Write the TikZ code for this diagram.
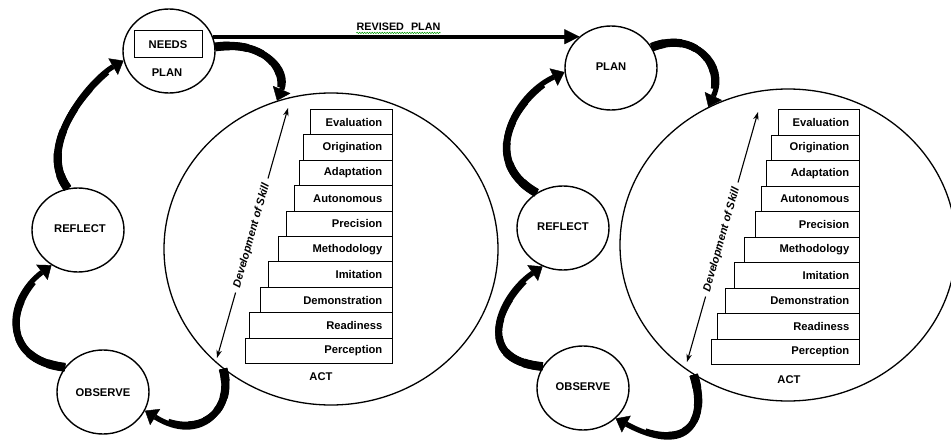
\documentclass[tikz,border=0pt]{standalone}
\usepackage{fontspec}
\setmainfont{Liberation Sans}
\usetikzlibrary{arrows.meta,shapes.geometric,decorations.pathmorphing,calc}
% tapered curved block arrow: node, angle, c1x, c1y, c2x, c2y, node, angle
\newcommand\taperarrow[8]{%
  \path (#1.#2) coordinate (tpA) (#7.#8) coordinate (tpB);
  \draw[bigarrow] (tpA) .. controls (#3,#4) and (#5,#6) .. (tpB);
  \foreach \tt/\ww in {0.85/5.8,0.7/6.4,0.55/7.0,0.4/7.6,0.25/8.2,0.1/8.8}{%
    \pgfsetlinewidth{\ww pt}%
    \pgfsetbuttcap
    \pgfpathcurvebetweentime{0}{\tt}{\pgfpointanchor{tpA}{center}}{\pgfpointxy{#3}{#4}}{\pgfpointxy{#5}{#6}}{\pgfpointanchor{tpB}{center}}%
    \pgfusepath{stroke}%
  }%
}
\begin{document}
\begin{tikzpicture}[x=1pt,y=1pt,
  lbl/.style={font=\fontsize{11.2}{13}\selectfont\bfseries, inner sep=0pt},
  smallc/.style={ellipse, draw, line width=1.4pt, minimum width=92pt, minimum height=84pt, inner sep=0pt},
  bigc/.style={ellipse, draw, line width=1.3pt, inner sep=0pt},
  stepbox/.style={draw, line width=1pt, rectangle, inner sep=0pt, anchor=north east},
  bigarrow/.style={line width=5.2pt, -{Triangle[length=12pt,width=19pt,line width=0.4pt]}},
  devarrow/.style={line width=1.1pt, -{Stealth[length=8pt,width=5.5pt]}},
  revarrow/.style={line width=3.8pt, -{Triangle[length=15pt,width=15pt,line width=0.4pt]}},
  squig/.style={green!60!black, line width=0.5pt, decorate, decoration={snake, amplitude=0.7pt, segment length=2.5pt}}
]
\useasboundingbox (0,0) rectangle (951,-444);

% big ACT ellipses
\node[bigc, minimum width=334pt, minimum height=312pt] (actL) at (331,-249) {};
\node[bigc, minimum width=336pt, minimum height=312pt] (actR) at (788,-245) {};

% small circles
\node[smallc] (planL) at (169,-51) {};
\node[smallc] (reflectL) at (78,-230) {};
\node[smallc] (observeL) at (103,-392) {};
\node[smallc] (planR) at (611,-68) {};
\node[smallc] (reflectR) at (563,-228) {};
\node[smallc] (observeR) at (583,-388) {};

\node[lbl, draw, line width=1pt, minimum width=68pt, minimum height=27pt] (needs) at (168,-44.5) {NEEDS};
\node[lbl] (planLtxt) at (167,-73) {PLAN};
\node[lbl] (reflectLtxt) at (80,-229) {REFLECT};
\node[lbl] (observeLtxt) at (103,-393) {OBSERVE};
\node[lbl] (planRtxt) at (611,-67) {PLAN};
\node[lbl] (reflectRtxt) at (563,-227) {REFLECT};
\node[lbl] (observeRtxt) at (583,-387) {OBSERVE};
\node[lbl] (actLtxt) at (321,-377) {ACT};
\node[lbl] (actRtxt) at (789,-380) {ACT};

% steps left
\foreach \lft/\txt [count=\i from 0] in {311/Evaluation,304/Origination,300/Adaptation,295/Autonomous,287/Precision,279/Methodology,269/Imitation,261/Demonstration,250/Readiness,246/Perception}{
  \pgfmathsetmacro\bw{393-\lft}
  \pgfmathsetmacro\btop{-109-25.4*\i}
  \node[stepbox, minimum width=\bw pt, minimum height=25.4pt] (Ls\i) at (393,\btop) {};
  \node[lbl, anchor=east] (Lt\i) at ($(Ls\i.east)+(-10.5,0)$) {\txt};
}
% steps right
\foreach \lft/\txt [count=\i from 0] in {779/Evaluation,772/Origination,767/Adaptation,762/Autonomous,756/Precision,745/Methodology,735/Imitation,726/Demonstration,718/Readiness,712/Perception}{
  \pgfmathsetmacro\bw{860-\lft}
  \pgfmathsetmacro\btop{-109-25.5*\i}
  \node[stepbox, minimum width=\bw pt, minimum height=25.5pt] (Rs\i) at (860,\btop) {};
  \node[lbl, anchor=east] (Rt\i) at ($(Rs\i.east)+(-10.5,0)$) {\txt};
}

% development of skill arrows
\coordinate (dLb) at (217,-358);
\coordinate (dLt) at (288,-108);
\path (dLb) -- node[pos=0.49, sloped, lbl, font=\fontsize{11}{13}\selectfont\bfseries\itshape] (dLtxt) {Development of Skill} (dLt);
\draw[devarrow] ($(dLtxt.west)!-5pt!(dLtxt.east)$) -- (dLb);
\draw[devarrow] ($(dLtxt.east)!-5pt!(dLtxt.west)$) -- (dLt);

\coordinate (dRb) at (687,-362);
\coordinate (dRt) at (758,-112);
\path (dRb) -- node[pos=0.49, sloped, lbl, font=\fontsize{11}{13}\selectfont\bfseries\itshape] (dRtxt) {Development of Skill} (dRt);
\draw[devarrow] ($(dRtxt.west)!-5pt!(dRtxt.east)$) -- (dRb);
\draw[devarrow] ($(dRtxt.east)!-5pt!(dRtxt.west)$) -- (dRt);

% revised plan
\draw[revarrow] (planL.18) -- (planL.18 -| planR.135);
\node[lbl, font=\fontsize{10.8}{12}\selectfont\bfseries] (rev) at (398.5,-26.4) {REVISED\hspace{7pt}PLAN};
\draw[squig] ($(rev.south west)+(0,-2.5)$) -- ($(rev.south east)+(0,-2.5)$);

% cycle arrows left
\taperarrow{reflectL}{104}{35}{-145}{90}{-80}{planL}{192}
\taperarrow{planL}{5}{265}{-40}{290}{-70}{actL}{110}
\taperarrow{actL}{228}{235}{-410}{200}{-445}{observeL}{336}
\taperarrow{observeL}{147}{0}{-360}{5}{-300}{reflectL}{233}

% cycle arrows right
\taperarrow{reflectR}{127}{478}{-160}{515}{-95}{planR}{185}
\taperarrow{planR}{27}{695}{-30}{728}{-65}{actR}{120}
\taperarrow{actR}{234}{708}{-420}{690}{-458}{observeR}{317}
\taperarrow{observeR}{152}{470}{-360}{500}{-295}{reflectR}{242}
\end{tikzpicture}
\end{document}
